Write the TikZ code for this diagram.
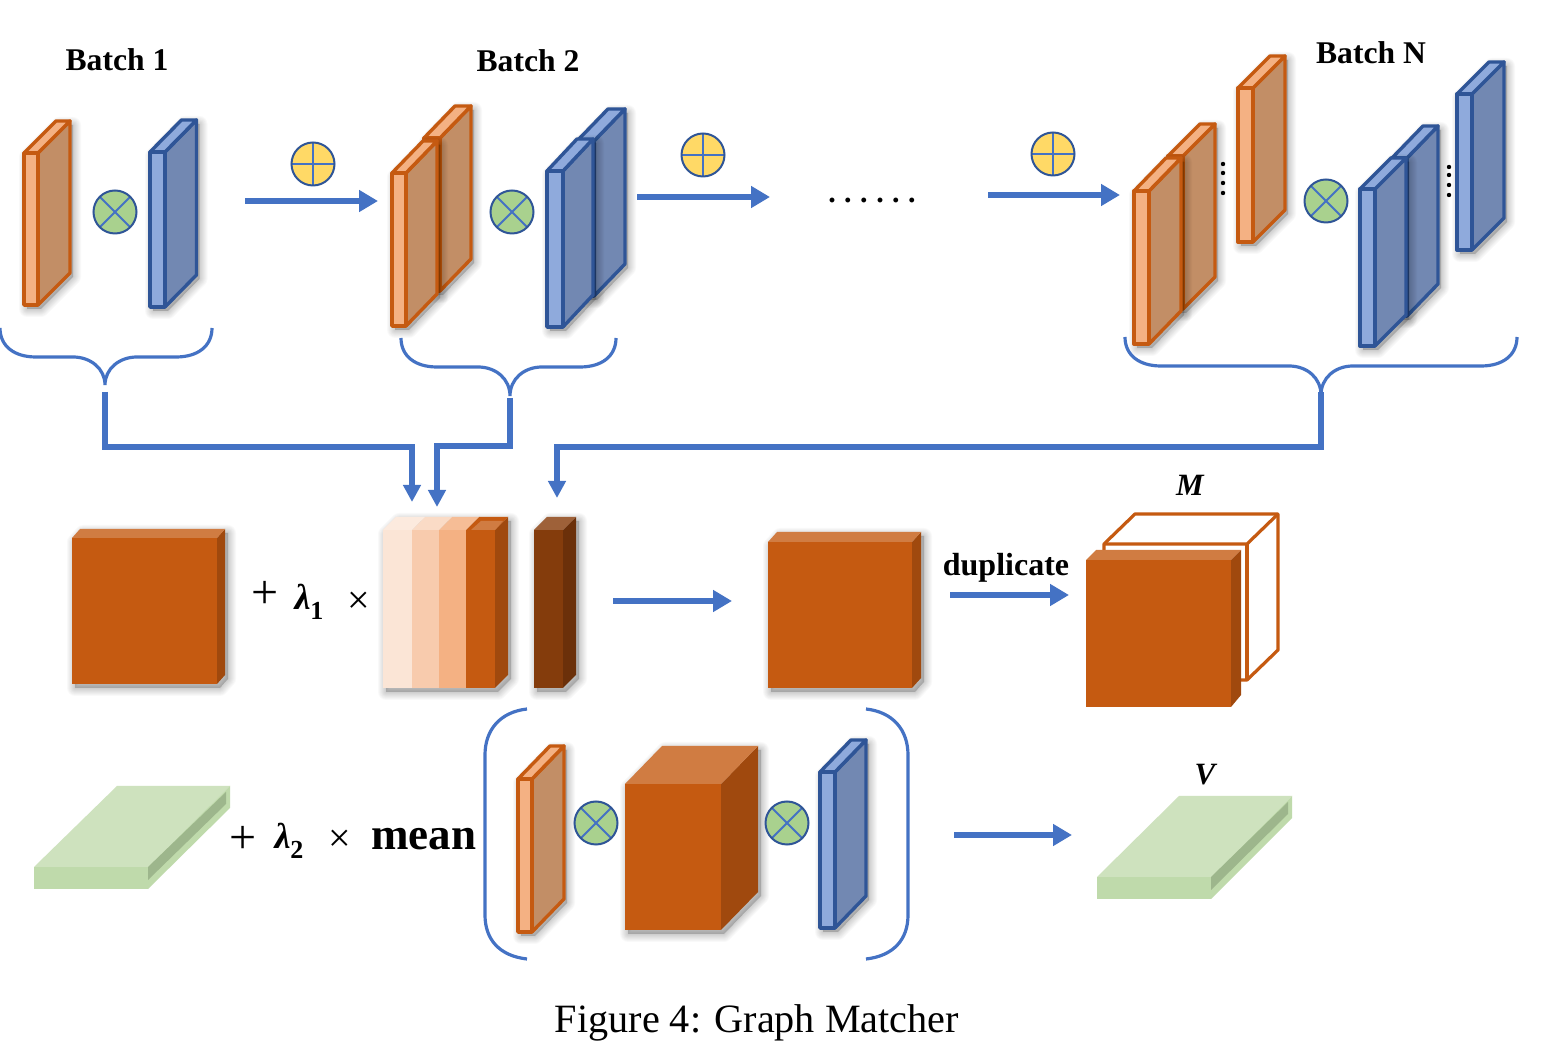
\documentclass[tikz,border=0pt]{standalone}
\usepackage{fontspec}
\setmainfont{Liberation Serif}
\usetikzlibrary{arrows.meta}
\definecolor{myblue}{HTML}{4472C4}
\definecolor{orgstroke}{HTML}{C55A11}
\definecolor{orgfill}{HTML}{F4B183}
\definecolor{orgside}{HTML}{C28E66}
\definecolor{blustroke}{HTML}{2F5597}
\definecolor{blufill}{HTML}{8FAADC}
\definecolor{bluside}{HTML}{7288B2}
\definecolor{rust}{HTML}{C55A11}
\definecolor{rustside}{HTML}{A0490E}
\definecolor{rusttop}{HTML}{D07C42}
\definecolor{brown}{HTML}{843C0C}
\definecolor{brownside}{HTML}{6B300A}
\definecolor{browntop}{HTML}{9E6139}
\definecolor{grntop}{HTML}{CEE2BE}
\definecolor{grnfront}{HTML}{BFDAAB}
\definecolor{grnside}{HTML}{9DB68C}
\definecolor{opgreen}{HTML}{A9D18E}
\definecolor{opyellow}{HTML}{FFD966}
\definecolor{peachmid}{HTML}{F8CBAD}
\definecolor{peachpale}{HTML}{FBE5D6}
\tikzset{
  orgfront/.style={draw=orgstroke,fill=orgfill,line width=1.7pt,line join=round},
  orgsidef/.style={draw=orgstroke,fill=orgside,line width=1.7pt,line join=round},
  orgtopf/.style={draw=orgstroke,fill=orgfill,line width=1.7pt,line join=round},
  blufront/.style={draw=blustroke,fill=blufill,line width=1.7pt,line join=round},
  blusidef/.style={draw=blustroke,fill=bluside,line width=1.7pt,line join=round},
  blutopf/.style={draw=blustroke,fill=blufill,line width=1.7pt,line join=round},
  rusfront/.style={fill=rust},
  russidef/.style={fill=rustside},
  rustopf/.style={fill=rusttop},
  brofront/.style={fill=brown},
  brosidef/.style={fill=brownside},
  brotopf/.style={fill=browntop},
  flow/.style={draw=myblue,line width=3.1pt,-{Triangle[length=9.5pt,width=10.5pt]}},
  elbow/.style={draw=myblue,line width=2.7pt,-{Triangle[length=8.5pt,width=8.5pt]}},
  bracket/.style={draw=myblue,line width=1.6pt},
  opnode/.style={circle,draw=blustroke,line width=1pt,minimum size=21.5pt,inner sep=0pt},
  otimes/.style={opnode,fill=opgreen,path picture={
      \draw[myblue,line width=1pt] (path picture bounding box.45) -- (path picture bounding box.225);
      \draw[myblue,line width=1pt] (path picture bounding box.135) -- (path picture bounding box.315);}},
  oplus/.style={opnode,fill=opyellow,path picture={
      \draw[myblue,line width=1pt] (path picture bounding box.north) -- (path picture bounding box.south);
      \draw[myblue,line width=1pt] (path picture bounding box.west) -- (path picture bounding box.east);}},
  batchlabel/.style={font=\bfseries\fontsize{15.8}{18}\selectfont,inner sep=0pt},
  mathlabel/.style={font=\fontsize{18}{22}\selectfont,inner sep=0pt},
}
% soft shadow of a closed polygon given as path text
\newcommand{\softshadow}[1]{%
  \foreach \w in {8,7,6,5,4,3,2,1}{%
    \fill[black,opacity=.022,line join=round] [draw=black,line width=\w pt,shift={(3,4)}] #1;}}
% #1 style stem, #2 x0, #3 x1, #4 y0, #5 y1, #6 dx, #7 dy
\newcommand{\slab}[7]{%
  \softshadow{(#2,#4)--({#2+#6},{#4-#7})--({#3+#6},{#4-#7})--({#3+#6},{#5-#7})--(#3,#5)--(#2,#5)--cycle}%
  \path[#1sidef] (#3,#4)--({#3+#6},{#4-#7})--({#3+#6},{#5-#7})--(#3,#5)--cycle;
  \path[#1topf] (#2,#4)--({#2+#6},{#4-#7})--({#3+#6},{#4-#7})--(#3,#4)--cycle;
  \path[#1front] (#2,#4) rectangle (#3,#5);
}
% #1 left, #2 tip x, #3 right, #4 y top, #5 y base, #6 y tip
\newcommand{\curlybrace}[6]{%
  \draw[bracket] (#1,#4) .. controls (#1,{#4+18}) and ({#1+14},#5) .. ({#1+36},#5)
    -- ({#2-32},#5) .. controls ({#2-14},#5) and (#2,{#5+12}) .. (#2,#6)
    .. controls (#2,{#5+12}) and ({#2+14},#5) .. ({#2+32},#5)
    -- ({#3-36},#5) .. controls ({#3-14},#5) and (#3,{#4+18}) .. (#3,#4);
}
\newcommand{\lam}[1]{\textbf{\textit{λ}}\raisebox{-.28em}{\fontsize{13}{13}\selectfont\textbf{#1}}}
\begin{document}
\begin{tikzpicture}[x=0.5pt,y=-0.5pt]
\useasboundingbox (0,0) rectangle (1560,1052);
\fill[white] (0,0) rectangle (1560,1052);

% Labels
\node[batchlabel] (b1) at (117,60) {Batch 1};
\node[batchlabel] (b2) at (528,61) {Batch 2};
\node[batchlabel] (bn) at (1371,53) {Batch N};

% Batch 1
\slab{org}{24}{38}{153}{305}{32}{32}
\slab{blu}{150}{165}{152}{307}{31.5}{32}
\node[otimes] (x1) at (115,212) {};

% Batch 2
\slab{org}{424}{440}{138}{291}{31}{32}
\slab{org}{392}{406}{173}{326}{31}{32}
\slab{blu}{577}{594}{141}{296}{31}{32}
\slab{blu}{547}{563}{171}{327}{30}{32}
\node[otimes] (x2) at (512,212) {};

% Batch N
\slab{org}{1238}{1253}{88}{242}{32}{32}
\slab{org}{1168}{1183}{156}{309}{32}{32}
\slab{org}{1134}{1149}{191}{344}{32}{33}
\slab{blu}{1457}{1472}{94}{250}{32}{32}
\slab{blu}{1392}{1407}{158}{316}{31}{32}
\slab{blu}{1360}{1375}{189}{346}{31}{31}
\node[otimes] (xn) at (1326,201) {};
\foreach \y in {164,173,183,193} \fill[black] (1223,\y) circle (1.1pt);
\foreach \y in {167,175,185,195} \fill[black] (1449,\y) circle (1.1pt);

% Oplus
\node[oplus] (p1) at (313,164) {};
\node[oplus] (p2) at (703,155) {};
\node[oplus] (p3) at (1053,154) {};

% Top arrows
\coordinate (a1s) at (245,201); \coordinate (a1e) at (378,201);
\coordinate (a2s) at (637,197); \coordinate (a2e) at (770,197);
\coordinate (a3s) at (988,195); \coordinate (a3e) at (1120,195);
\draw[flow] (a1s) -- (a1e);
\draw[flow] (a2s) -- (a2e);
\draw[flow] (a3s) -- (a3e);
\node[inner sep=0pt,font=\bfseries\fontsize{15}{15}\selectfont] (dots) at (872,201)
  {\makebox[8pt]{.}\makebox[8pt]{.}\makebox[8pt]{.}\makebox[8pt]{.}\makebox[8pt]{.}\makebox[8pt]{.}};

% Braces
\curlybrace{0}{105}{212}{328}{357}{385}
\curlybrace{401}{510}{616}{338}{367}{396}
\curlybrace{1125}{1321}{1517}{337}{366}{395}

% Elbow connectors
\coordinate (e1s) at (105,392); \coordinate (e1e) at (412,502);
\coordinate (e2s) at (510,398); \coordinate (e2e) at (437,507);
\coordinate (e3s) at (1321,392); \coordinate (e3e) at (557,498);
\draw[elbow] (e1s) |- (412,447) -- (e1e);
\draw[elbow] (e2s) |- (437,446) -- (e2e);
\draw[elbow] (e3s) |- (557,447) -- (e3e);

% Row 2
\slab{rus}{72}{217}{538}{684}{8}{9}
\node[mathlabel,font=\fontsize{24}{24}\selectfont] (pl1) at (265,595) {+};
\node[mathlabel] (l1) at (309,602) {\lam{1}};
\node[mathlabel,font=\fontsize{20}{24}\selectfont] (t1) at (359,603) {×};

% Stack
\softshadow{(383,530)--(396,517)--(508,517)--(508,675)--(495,688)--(383,688)--cycle}
\fill[rustside] (495,530)--(508,517)--(508,675)--(495,688)--cycle;
\fill[rust] (466,530)--(479,517)--(508,517)--(495,530)--cycle;
\fill[rusttop] (471,530)--(481,521)--(503,521)--(495,530)--cycle;
\fill[orgfill!85!white] (439,530)--(452,517)--(479,517)--(466,530)--cycle;
\fill[peachmid!70!white] (412,530)--(425,517)--(452,517)--(439,530)--cycle;
\fill[peachpale!80!white] (383,530)--(396,517)--(425,517)--(412,530)--cycle;
\fill[peachpale] (383,530) rectangle (412,688);
\fill[peachmid] (412,530) rectangle (439,688);
\fill[orgfill] (439,530) rectangle (466,688);
\fill[rust] (466,530) rectangle (495,688);
\slab{bro}{534}{563}{530}{688}{13}{13}

\coordinate (a4s) at (613,601); \coordinate (a4e) at (732,601);
\draw[flow] (a4s) -- (a4e);

\slab{rus}{768}{912}{542}{688}{9}{10}

\node[font=\bfseries\fontsize{16}{18}\selectfont,inner sep=0pt] (dup) at (1006,568) {duplicate};
\coordinate (a5s) at (950,595); \coordinate (a5e) at (1069,595);
\draw[flow] (a5s) -- (a5e);

% M block
\draw[draw=orgstroke,fill=white,line width=1.6pt,line join=round]
  (1104,544) -- (1135,514) -- (1278,514) -- (1278,650) -- (1247,680) -- (1104,680) -- cycle;
\draw[draw=orgstroke,line width=1.6pt] (1104,544) -- (1247,544) -- (1278,514);
\draw[draw=orgstroke,line width=1.6pt] (1247,544) -- (1247,680);
\fill[rusttop] (1086,560)--(1096,550)--(1241,550)--(1231,560)--cycle;
\fill[rustside] (1231,560)--(1241,550)--(1241,695)--(1231,707)--cycle;
\fill[rust] (1086,560) rectangle (1231,707);
\node[batchlabel,font=\bfseries\itshape\fontsize{15.5}{18}\selectfont] (M) at (1190,485) {M};

% Row 3: green left
\fill[grntop] (34,867)--(117,786)--(230,786)--(148,867)--cycle;
\fill[grnfront] (230,786)--(230,808)--(148,889)--(148,867)--cycle;
\fill[grnside] (148,867)--(226,792)--(226,804)--(148,880)--cycle;
\fill[grnfront] (34,867) rectangle (148,889);
\node[mathlabel,font=\fontsize{24}{24}\selectfont] (pl2) at (243,840) {+};
\node[mathlabel] (l2) at (289,841) {\lam{2}};
\node[mathlabel,font=\fontsize{20}{24}\selectfont] (t2) at (340,841) {×};
\node[inner sep=0pt,font=\bfseries\fontsize{22.5}{26}\selectfont] (mean) at (424,839) {mean};

% Parens
\coordinate (pla) at (527,709); \coordinate (plb) at (527,959);
\coordinate (pra) at (866,709); \coordinate (prb) at (866,959);
\draw[bracket] (pla) .. controls (500,712) and (485,730) .. (485,755) -- (485,915)
   .. controls (485,940) and (500,956) .. (plb);
\draw[bracket] (pra) .. controls (893,712) and (908,730) .. (908,755) -- (908,915)
   .. controls (908,940) and (893,956) .. (prb);

% Bracket content
\slab{org}{518}{532}{779}{932}{32}{33}
\node[otimes] (x3) at (596,823) {};
\slab{rus}{625}{721}{784}{930}{37}{38}
\node[otimes] (x4) at (787,823) {};
\slab{blu}{820}{835}{772}{928}{31}{32}

\coordinate (a6s) at (954,835); \coordinate (a6e) at (1072,835);
\draw[flow] (a6s) -- (a6e);

% Green right
\fill[grntop] (1097,877)--(1179,796)--(1292,796)--(1211,877)--cycle;
\fill[grnfront] (1292,796)--(1292,818)--(1211,899)--(1211,877)--cycle;
\fill[grnside] (1211,877)--(1288,802)--(1288,814)--(1211,890)--cycle;
\fill[grnfront] (1097,877) rectangle (1211,899);
\node[batchlabel,font=\bfseries\itshape\fontsize{15.5}{18}\selectfont] (V) at (1205,775) {V};

% Caption
\node[inner sep=0pt,font=\fontsize{20.1}{24}\selectfont] (cap) at (757,1023) {Figure 4: Graph Matcher};
\end{tikzpicture}
\end{document}
